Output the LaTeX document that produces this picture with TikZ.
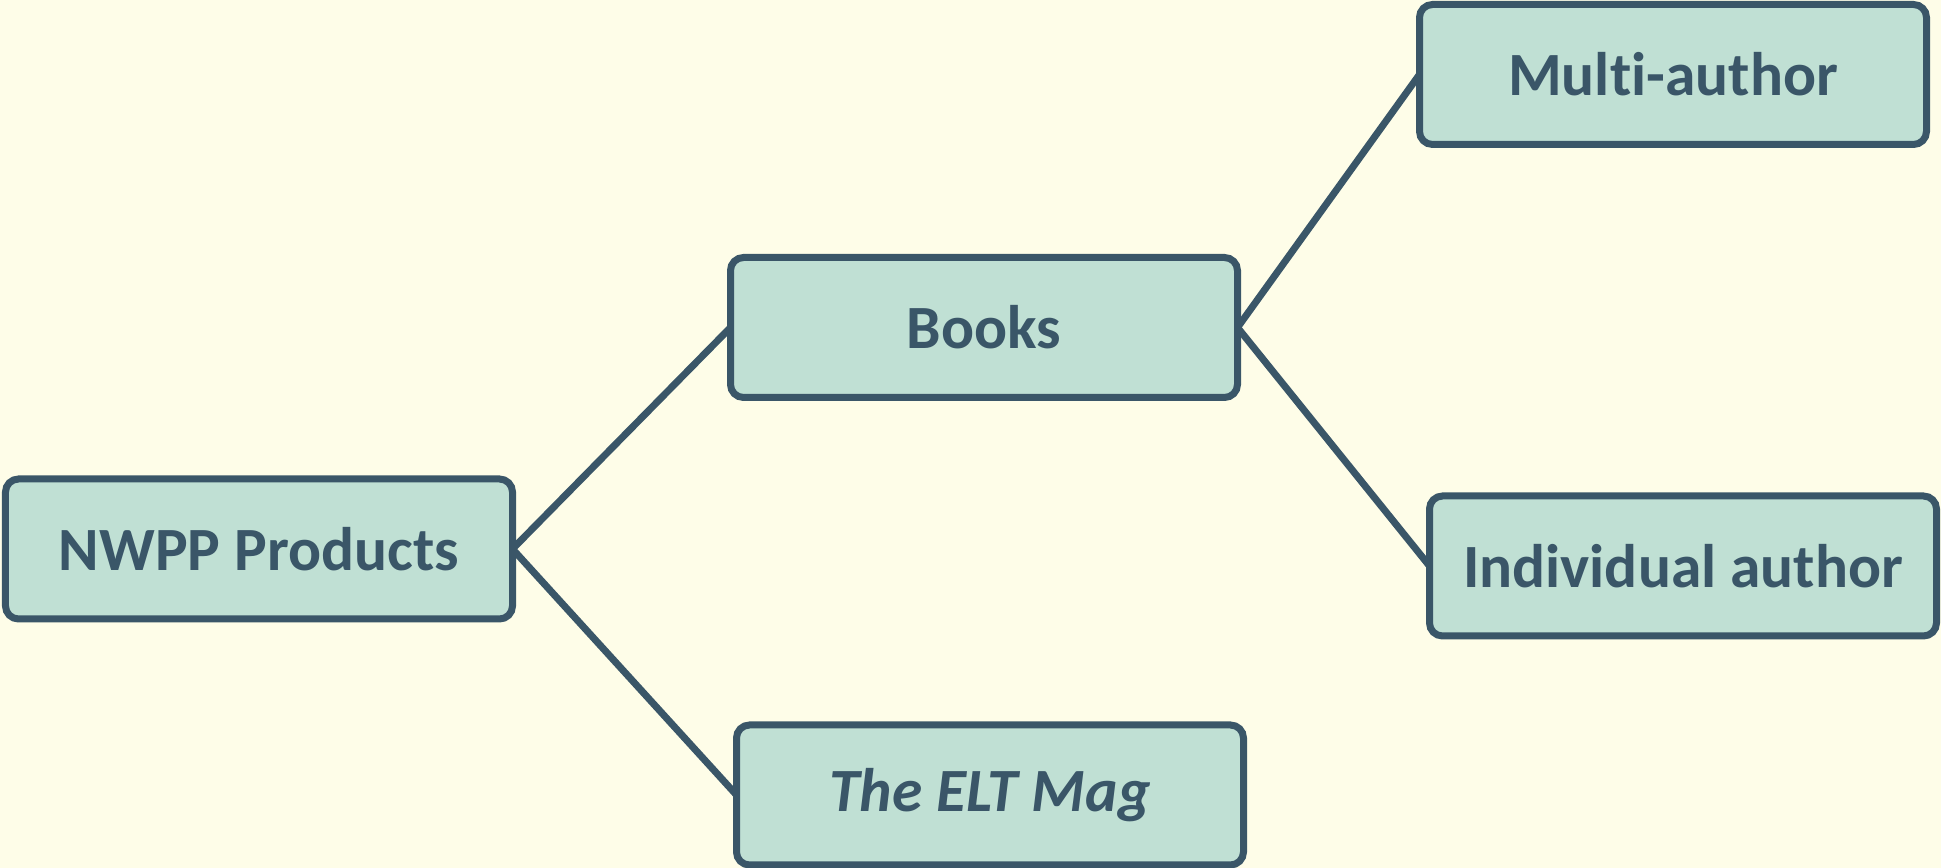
\documentclass[tikz,border=0pt]{standalone}
\usepackage{fontspec}
\setmainfont{Carlito}[Ligatures=NoCommon]
\usetikzlibrary{positioning}

\definecolor{bgcream}{RGB}{254,253,232}
\definecolor{boxfill}{RGB}{192,224,212}
\definecolor{boxline}{RGB}{58,86,104}

\begin{document}
\begin{tikzpicture}[
  every node/.style = {draw=boxline, fill=boxfill, line width=0.14cm, rounded corners=0.26cm,
                       minimum width=10.14cm, minimum height=2.8cm, outer sep=0pt,
                       text=boxline, font=\fontsize{35}{42}\selectfont\bfseries},
  link/.style = {draw=boxline, line width=0.14cm}
]

\fill[bgcream] (0,0) rectangle (38.82,17.36);
\useasboundingbox (0,0) rectangle (38.82,17.36);

\node (P) at (5.18,6.38)                      {NWPP Products};
\node (B) [above right=1.63cm and 4.36cm of P] {Books};
\node (E) [below right=2.12cm and 4.48cm of P] {\itshape The ELT Mag};
\node (M) [above right=2.26cm and 3.64cm of B] {Multi-author};
\node (I) [below right=1.97cm and 3.84cm of B] {Individual author};

\draw[link] (P.east) -- (B.west);   % products -> books
\draw[link] (P.east) -- (E.west);   % products -> magazine
\draw[link] (B.east) -- (M.west);
\draw[link] (B.east) -- (I.west);

\end{tikzpicture}
\end{document}
